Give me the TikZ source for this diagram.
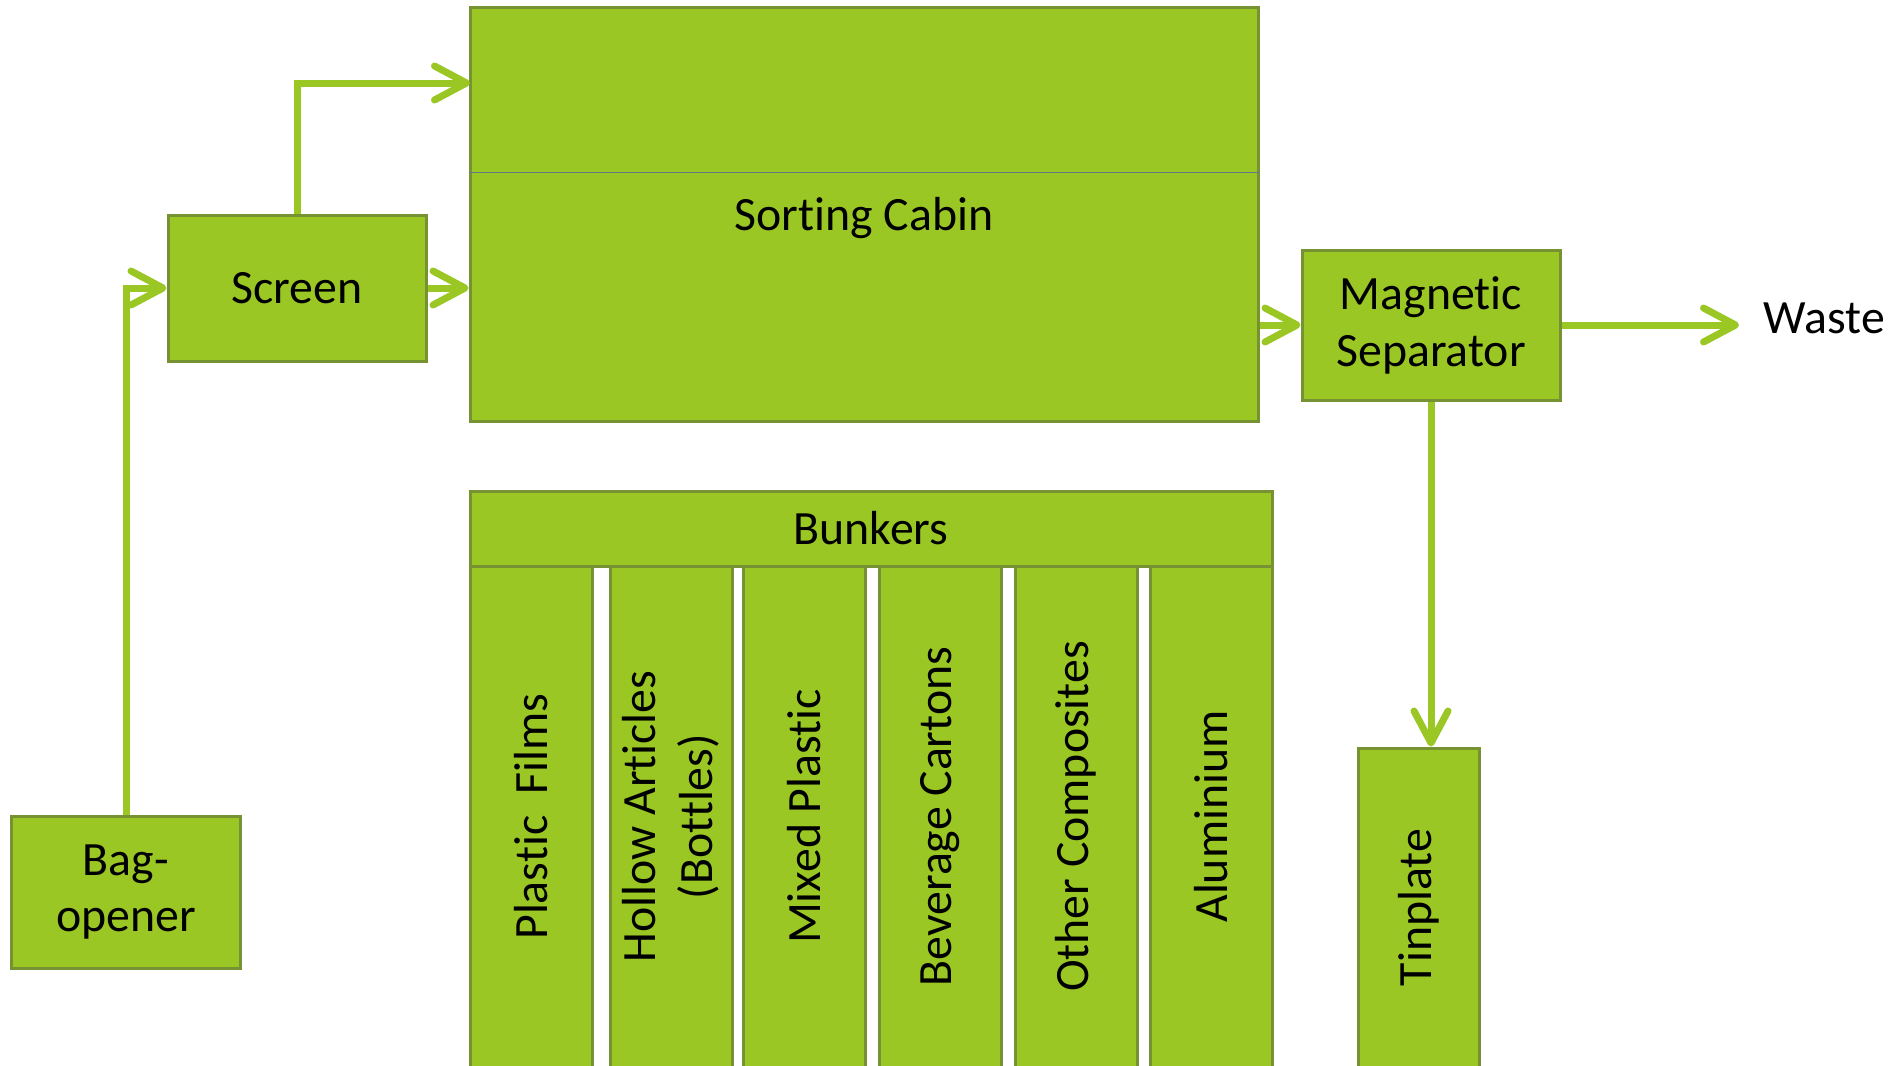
\documentclass[tikz,border=0pt]{standalone}
\usepackage{fontspec}
\setmainfont{Carlito}[Ligatures=NoCommon]
\usetikzlibrary{calc, arrows.meta}

\definecolor{leaf}{RGB}{154,199,35}
\definecolor{leafdark}{RGB}{118,146,50}
\definecolor{divider}{RGB}{98,118,140}

\begin{document}
\begin{tikzpicture}[font=\fontsize{13.6}{16.2}\selectfont,
    box/.style={draw=leafdark, line width=0.03cm, fill=leaf, align=center, inner sep=0pt},
    flow/.style={draw=leaf, line width=0.07cm, -{Straight Barb[length=0.32cm, width=0.34cm, round]}}]
    \clip (0,0) rectangle (18.91,-10.65);

    \node[box, minimum width=2.28cm, minimum height=1.52cm] (Bag) at (1.26,-8.92) {Bag-\\opener};
    \node[box, minimum width=2.58cm, minimum height=1.46cm] (Screen) at (2.97,-2.88) {Screen};
    \node[box, minimum width=7.88cm, minimum height=4.14cm] (Cabin) at (8.64,-2.14) {};
    \draw[divider, line width=0.015cm] ($(Cabin.north west)!0.4!(Cabin.south west)$) -- ($(Cabin.north east)!0.4!(Cabin.south east)$);
    \node (CabinText) at (8.64,-2.18) {Sorting Cabin};
    \coordinate (CabinTop) at (4.70,-0.83);
    \node[box, minimum width=2.58cm, minimum height=1.50cm] (MagSep) at (14.31,-3.25) {Magnetic\\Separator};
    \node[inner sep=0.24cm, anchor=west] (Waste) at (17.39,-3.18) {Waste};
    \node[box, minimum width=1.21cm, minimum height=3.19cm] (Tinplate) at (14.185,-9.075) {};
    \node[rotate=90] at (Tinplate) {Tinplate};

    % bunkers
    \node[box, minimum width=8.02cm, minimum height=0.75cm] (Bunkers) at (8.71,-5.285) {Bunkers};
    \node[box, rotate=90, minimum width=5.01cm, minimum height=1.22cm] (Films) at (5.31,-8.165) {Plastic\ \ Films};
    \node[box, rotate=90, minimum width=5.01cm, minimum height=1.22cm] (Hollow) at (6.71,-8.165) {Hollow Articles\\(Bottles)};
    \node[box, rotate=90, minimum width=5.01cm, minimum height=1.22cm] (Mixed) at (8.04,-8.165) {Mixed Plastic};
    \node[box, rotate=90, minimum width=5.01cm, minimum height=1.22cm] (Cartons) at (9.40,-8.165) {Beverage Cartons};
    \node[box, rotate=90, minimum width=5.01cm, minimum height=1.22cm] (Composites) at (10.76,-8.165) {Other Composites};
    \node[box, rotate=90, minimum width=5.01cm, minimum height=1.22cm] (Alu) at (12.11,-8.165) {Aluminium};

    \draw[flow] (Bag.north) |- (Screen.west);
    \draw[flow] (Screen.north) |- (CabinTop);
    \draw[flow] (Screen.east) -- (Screen.east -| Cabin.west);
    \draw[flow] (Cabin.east |- MagSep.west) -- (MagSep.west);
    \draw[flow] (MagSep.east) -- (MagSep.east -| Waste.west);
    \draw[flow] (MagSep.south) -- (MagSep.south |- Tinplate.north);
\end{tikzpicture}
\end{document}
